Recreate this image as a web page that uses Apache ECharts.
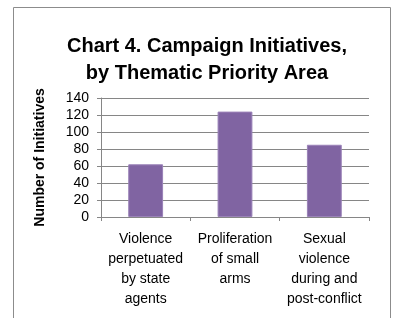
<!DOCTYPE html>
<html>
<head>
<meta charset="utf-8">
<script src="https://cdn.jsdelivr.net/npm/echarts@6/dist/echarts.min.js"></script>
<style>
html, body { margin: 0; padding: 0; background: #fff; }
#chart { width: 401px; height: 318px; }
</style>
</head>
<body>
<div id="chart"></div>
<script>
// values
var categories = ['Violence\nperpetuated\nby state\nagents', 'Proliferation\nof small\narms', 'Sexual\nviolence\nduring and\npost-conflict'];
var initiatives = [62, 124, 85];
var yTicks = [0, 20, 40, 60, 80, 100, 120, 140];

var chart = echarts.init(document.getElementById('chart'));
var font = 'Liberation Sans, Arial, sans-serif';

var option = {
	animation: false,
	graphic: [{
		type: 'rect',
		shape: { x: 13.5, y: 7.5, width: 377, height: 330 },
		style: { fill: 'none', stroke: '#8c8c8c', lineWidth: 1 }
	}],
	title: {
		text: 'Chart 4. Campaign Initiatives,\nby Thematic Priority Area',
		left: 202,
		textAlign: 'center',
		top: 28,
		textStyle: { fontFamily: font, fontSize: 20, fontWeight: 'bold', color: '#000', lineHeight: 27 }
	},
	grid: { left: 101, right: 32, top: 98, bottom: 101 },
	xAxis: {
		type: 'category',
		data: categories,
		axisLine: { lineStyle: { color: '#868686' } },
		axisTick: { show: true, length: 4, lineStyle: { color: '#868686' } },
		axisLabel: { fontFamily: font, fontSize: 14, color: '#000', lineHeight: 20, margin: 12, interval: 0 }
	},
	yAxis: {
		type: 'value',
		min: yTicks[0],
		max: yTicks[yTicks.length - 1],
		interval: 20,
		name: 'Number of Initiatives',
		nameLocation: 'middle',
		nameGap: 54,
		nameTextStyle: { fontFamily: font, fontSize: 14, fontWeight: 'bold', color: '#000' },
		axisLine: { show: true, lineStyle: { color: '#868686' } },
		axisTick: { show: true, length: 4, lineStyle: { color: '#868686' } },
		axisLabel: { fontFamily: font, fontSize: 14, color: '#000', margin: 12 },
		splitLine: { lineStyle: { color: '#868686' } }
	},
	series: [{
		type: 'bar',
		data: initiatives,
		barWidth: '39%',
		itemStyle: { color: '#8064A2', borderColor: '#9a82b8', borderWidth: 1 }
	}]
};
chart.setOption(option);
</script>
</body>
</html>
